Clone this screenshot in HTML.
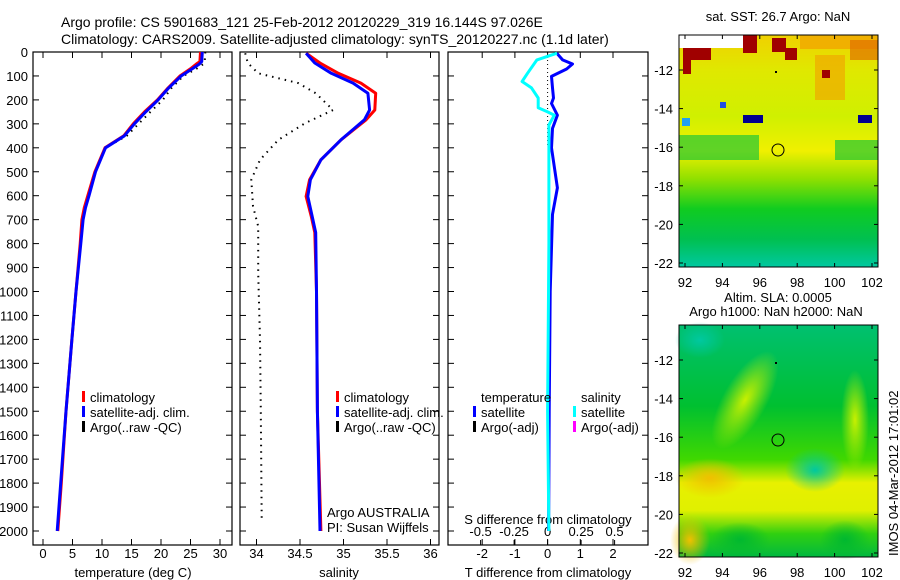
<!DOCTYPE html>
<html><head><meta charset="utf-8">
<style>
html,body{margin:0;padding:0;background:#fff;}
svg{display:block;font-family:"Liberation Sans",sans-serif;}
text{font-size:13px;fill:#000;}
</style></head>
<body>
<svg id="fig" width="900" height="580" viewBox="0 0 900 580">
<defs>
<linearGradient id="sstGrad" x1="0" y1="0" x2="0" y2="1">
<stop offset="0" stop-color="#f0d000"/><stop offset="0.15" stop-color="#e0e800"/>
<stop offset="0.35" stop-color="#d0f000"/><stop offset="0.5" stop-color="#f0f000"/>
<stop offset="0.62" stop-color="#90e000"/><stop offset="0.75" stop-color="#10cc20"/>
<stop offset="0.88" stop-color="#00c050"/><stop offset="1" stop-color="#00c8a0"/>
</linearGradient>
<linearGradient id="slaGrad" x1="0" y1="0" x2="0" y2="1">
<stop offset="0" stop-color="#00c070"/><stop offset="0.35" stop-color="#00c030"/>
<stop offset="0.58" stop-color="#40d800"/><stop offset="0.68" stop-color="#e8f000"/>
<stop offset="0.8" stop-color="#e0f000"/><stop offset="0.9" stop-color="#30d010"/><stop offset="1" stop-color="#00b840"/>
</linearGradient>
<radialGradient id="teal" cx="0.5" cy="0.5" r="0.5"><stop offset="0" stop-color="#00c8a0"/><stop offset="1" stop-color="#00c8a0" stop-opacity="0"/></radialGradient>
<radialGradient id="orng" cx="0.5" cy="0.5" r="0.5"><stop offset="0" stop-color="#f0c000"/><stop offset="1" stop-color="#f0c000" stop-opacity="0"/></radialGradient>
<radialGradient id="yel" cx="0.5" cy="0.5" r="0.5"><stop offset="0" stop-color="#c8f000"/><stop offset="1" stop-color="#c8f000" stop-opacity="0"/></radialGradient>
<radialGradient id="grn" cx="0.5" cy="0.5" r="0.5"><stop offset="0" stop-color="#00b830"/><stop offset="1" stop-color="#00b830" stop-opacity="0"/></radialGradient>
</defs>
<text x="61" y="27" style="font-size:14px">Argo profile: CS 5901683_121 25-Feb-2012 20120229_319 16.144S 97.026E</text>
<text x="61" y="44" style="font-size:14px">Climatology: CARS2009. Satellite-adjusted climatology: synTS_20120227.nc (1.1d later)</text>
<g id="p1"></g>
<g id="p2"></g>
<g id="p3"></g>

<g>
<text x="778" y="21" text-anchor="middle">sat. SST: 26.7 Argo: NaN</text>
<rect x="679" y="35" width="199" height="232" fill="url(#sstGrad)"/>
<rect x="679" y="35" width="76" height="13" fill="#fff"/>
<rect x="683" y="48" width="28" height="12" fill="#a00000"/>
<rect x="683" y="60" width="8" height="14" fill="#a00000"/>
<rect x="743" y="35" width="14" height="18" fill="#a00000"/>
<rect x="772" y="38" width="14" height="14" fill="#a00000"/>
<rect x="785" y="48" width="12" height="12" fill="#a00000"/>
<rect x="800" y="35" width="78" height="14" fill="#f0b000"/>
<rect x="815" y="55" width="30" height="45" fill="#f0a800" opacity="0.7"/>
<rect x="850" y="40" width="28" height="20" fill="#e07000" opacity="0.7"/>
<rect x="822" y="70" width="8" height="8" fill="#a00000"/>
<rect x="679" y="135" width="80" height="25" fill="#00c040" opacity="0.6"/>
<rect x="835" y="140" width="43" height="20" fill="#00c040" opacity="0.6"/>
<rect x="743" y="115" width="20" height="8" fill="#000090"/>
<rect x="858" y="115" width="14" height="8" fill="#000090"/>
<rect x="682" y="118" width="8" height="8" fill="#20a0f0"/>
<rect x="720" y="102" width="6" height="6" fill="#2050e0"/>
<circle cx="778" cy="150" r="6" fill="none" stroke="#000"/>
<rect x="775" y="71" width="2" height="2" fill="#000"/>
<rect x="679" y="35" width="199" height="232" fill="none" stroke="#000"/>
<g id="m1ax"></g>
</g>

<g>
<text x="778" y="302" text-anchor="middle">Altim. SLA: 0.0005</text>
<text x="776" y="316" text-anchor="middle">Argo h1000: NaN h2000: NaN</text>
<rect x="679" y="325" width="199" height="232" fill="url(#slaGrad)"/>
<ellipse cx="745" cy="400" rx="22" ry="55" fill="url(#yel)" transform="rotate(30 745 400)"/>
<ellipse cx="855" cy="420" rx="14" ry="50" fill="url(#yel)"/>
<ellipse cx="815" cy="470" rx="30" ry="22" fill="url(#teal)"/>
<ellipse cx="710" cy="478" rx="35" ry="20" fill="url(#orng)"/>
<ellipse cx="690" cy="540" rx="20" ry="25" fill="url(#orng)"/>
<ellipse cx="740" cy="540" rx="30" ry="18" fill="url(#grn)"/>
<ellipse cx="845" cy="540" rx="25" ry="20" fill="url(#grn)"/>
<ellipse cx="700" cy="340" rx="25" ry="18" fill="url(#teal)"/>
<circle cx="778" cy="440" r="6" fill="none" stroke="#000"/>
<rect x="775" y="362" width="2" height="2" fill="#000"/>
<rect x="679" y="325" width="199" height="232" fill="none" stroke="#000"/>
<g id="m2ax"></g>
</g>
<text transform="translate(898,556) rotate(-90)" style="font-size:13px">IMOS 04-Mar-2012 17:01:02</text>
</svg>
<script>
// ---- data ----
var depthTicks = [0,100,200,300,400,500,600,700,800,900,1000,1100,1200,1300,1400,1500,1600,1700,1800,1900,2000];
var tempTicks = [0,5,10,15,20,25,30];
var salTicks = [34,34.5,35,35.5,36];
var salTickLabels = ['34','34.5','35','35.5','36'];
var tdiffTicks = [-2,-1,0,1,2];
var sdiffTicks = [-0.5,-0.25,0,0.25,0.5];
var sdiffLabels = ['-0.5','-0.25','0','0.25','0.5'];
var lonTicks = [92,94,96,98,100,102];
var latTicks = [-12,-14,-16,-18,-20,-22];

var depthT = [0,40,50,70,100,150,200,250,300,350,400,500,600,650,700,800,1000,1200,1500,1800,2000];
var tempClim = [26.7,26.6,26.0,25.0,23.2,21.2,19.4,17.2,15.3,13.7,10.5,8.8,7.6,7.0,6.6,6.3,5.6,4.9,3.9,3.1,2.5];
var tempSat = [27.0,26.9,26.5,25.3,23.4,21.3,19.5,17.4,15.5,13.8,10.6,8.9,7.8,7.2,6.8,6.4,5.6,4.9,3.9,3.0,2.4];
var depthArgoT = [0,40,50,70,100,150,200,250,300,350,400,500,600,700,800,1000,1200,1500,1800,1980];
var tempArgo = [27.5,27.4,27.2,26.0,23.8,21.8,20.3,18.2,16.2,14.2,10.6,8.9,7.7,6.7,6.3,5.6,4.9,3.9,3.1,2.5];

var depthS = [5,46,89,130,172,242,283,367,450,533,603,687,754,1000,1500,2000];
var salClim = [34.57,34.73,34.94,35.2,35.37,35.36,35.26,34.97,34.74,34.61,34.57,34.63,34.67,34.69,34.7,34.74];
var salSat = [34.57,34.67,34.86,35.11,35.28,35.30,35.24,34.97,34.74,34.62,34.59,34.64,34.68,34.69,34.7,34.73];
var depthArgoS = [5,46,89,130,172,242,297,367,450,533,644,728,922,1200,1500,1950];
var salArgo = [33.87,33.9,34.02,34.48,34.68,34.88,34.56,34.25,34.04,33.94,33.96,34.02,34.02,34.04,34.05,34.06];

var depthTD = [5,33,50,71,102,150,192,215,264,319,400,567,678,1000,1500,2000];
var tDiff = [0.28,0.46,0.76,0.58,0.12,0.15,0.18,0.12,0.3,0.15,0.12,0.3,0.15,0.08,0.05,0.03];
var depthSD = [5,33,89,123,150,192,233,250,264,305,400,800,1500,2000];
var sDiff = [0.07,-0.08,-0.15,-0.19,-0.12,-0.07,-0.07,0,0.05,0.01,0.01,0.01,0.0,0.01];

// ---- axes ----
var NS='http://www.w3.org/2000/svg';
function yD(d){return 52+0.2395*d;}
function xT(t){return 43+5.9*t;}
function xS(s){return 256.5+87*(s-34);}
function xTD(t){return 547.6+32.7*t;}
function xSD(s){return 547.6+134*s;}
function xLon(l){return 685+(l-92)*18.7;}
function yLat1(l){return 70+(-12-l)*19.3;}
function yLat2(l){return 360+(-12-l)*19.3;}
function mk(tag,attrs,parent){var e=document.createElementNS(NS,tag);for(var k in attrs)e.setAttribute(k,attrs[k]);parent.appendChild(e);return e;}
function txt(x,y,s,anchor,parent){var e=mk('text',{x:x,y:y,'text-anchor':anchor},parent);e.textContent=s;return e;}

var P=[{g:'p1',x0:33,x1:232},{g:'p2',x0:240,x1:439},{g:'p3',x0:448,x1:648}];
var pTop=52,pBot=545;
P.forEach(function(p,i){
  var g=document.getElementById(p.g);
  var fr=mk('rect',{x:p.x0,y:pTop,width:p.x1-p.x0,height:pBot-pTop,fill:'none',stroke:'#000','stroke-width':1.2},g);
  
  
  depthTicks.forEach(function(d){
    mk('line',{x1:p.x0,x2:p.x0+6,y1:yD(d),y2:yD(d),stroke:'#000'},g);
    mk('line',{x1:p.x1,x2:p.x1-6,y1:yD(d),y2:yD(d),stroke:'#000'},g);
  });
});
var g1=document.getElementById('p1');
depthTicks.forEach(function(d){var t=txt(28,yD(d)+5,String(d),'end',g1);
  
  });
tempTicks.forEach(function(v){var x=xT(v);
  mk('line',{x1:x,x2:x,y1:pTop,y2:pTop+6,stroke:'#000'},g1);mk('line',{x1:x,x2:x,y1:pBot,y2:pBot-6,stroke:'#000'},g1);
  var t=txt(x,558,String(v),'middle',g1);
  
  });
var xl=txt(133,577,'temperature (deg C)','middle',g1);



var g2=document.getElementById('p2');
salTicks.forEach(function(v,i){var x=xS(v);
  mk('line',{x1:x,x2:x,y1:pTop,y2:pTop+6,stroke:'#000'},g2);mk('line',{x1:x,x2:x,y1:pBot,y2:pBot-6,stroke:'#000'},g2);
  var t=txt(x,558,salTickLabels[i],'middle',g2);
  
  });
var sl=txt(339,577,'salinity','middle',g2);



var g3=document.getElementById('p3');
tdiffTicks.forEach(function(v){var x=xTD(v);
  mk('line',{x1:x,x2:x,y1:pTop,y2:pTop+6,stroke:'#000'},g3);mk('line',{x1:x,x2:x,y1:pBot,y2:pBot-6,stroke:'#000'},g3);
  var t=txt(x,558,String(v),'middle',g3);
  
  });
sdiffTicks.forEach(function(v,i){var x=xSD(v);
  mk('line',{x1:x,x2:x,y1:pBot,y2:pBot-5,stroke:'#000'},g3);
  var t=txt(x,536,sdiffLabels[i],'middle',g3);
  
  });
var st=txt(548,524,'S difference from climatology','middle',g3);


var tt=txt(548,577,'T difference from climatology','middle',g3);



// ---- series ----
function line(g,xs,ds,fx,color,w,dash,name){
  var pts=xs.map(function(v,i){return fx(v).toFixed(1)+','+yD(ds[i]).toFixed(1);}).join(' ');
  var a={points:pts,fill:'none',stroke:color,'stroke-width':w,'stroke-linejoin':'round'};
  if(dash)a['stroke-dasharray']=dash;
  var e=mk('polyline',a,g);
  
  
}
line(g1,tempArgo,depthArgoT,xT,'#000',2,'1.5 5','argo-temp-line');
line(g1,tempClim,depthT,xT,'#f00',3,null,'climatology-temp-line');
line(g1,tempSat,depthT,xT,'#00f',3,null,'satellite-temp-line');
line(g2,salArgo,depthArgoS,xS,'#000',2,'1.5 5','argo-salinity-line');
line(g2,salClim,depthS,xS,'#f00',3,null,'climatology-salinity-line');
line(g2,salSat,depthS,xS,'#00f',3,null,'satellite-salinity-line');
mk('line',{x1:xTD(0),x2:xTD(0),y1:pTop,y2:yD(400),stroke:'#000','stroke-dasharray':'1 3'},g3);
line(g3,tDiff,depthTD,xTD,'#00f',3,null,'tdiff-satellite-line');
line(g3,sDiff,depthSD,xSD,'#0ff',3,null,'sdiff-satellite-line');

// ---- legends ----
function leg(g,x,y,color,label,name){
  mk('rect',{x:x,y:y-6,width:3,height:11,fill:color},g);
  var t=txt(x+8,y+5,label,'start',g);
  
  
}
leg(g1,82,397,'#f00','climatology','legend-climatology');
leg(g1,82,412,'#00f','satellite-adj. clim.','legend-satellite');
leg(g1,82,427,'#000','Argo(..raw -QC)','legend-argo');
leg(g2,336,397,'#f00','climatology','legend-climatology');
leg(g2,336,412,'#00f','satellite-adj. clim.','legend-satellite');
leg(g2,336,427,'#000','Argo(..raw -QC)','legend-argo');
var lt=txt(481,402,'temperature','start',g3);


var ls=txt(581,402,'salinity','start',g3);


leg(g3,473,412,'#00f','satellite','legend-t-satellite');
leg(g3,473,427,'#000','Argo(-adj)','legend-t-argo');
leg(g3,573,412,'#0ff','satellite','legend-s-satellite');
leg(g3,573,427,'#f0f','Argo(-adj)','legend-s-argo');
var a1=txt(327,517,'Argo AUSTRALIA','start',g2);


var a2=txt(327,532,'PI: Susan Wijffels','start',g2);



// ---- map axes ----
function mapAx(id,y0,y1,fy){
  var g=document.getElementById(id);
  lonTicks.forEach(function(l){var x=xLon(l);
    mk('line',{x1:x,x2:x,y1:y0,y2:y0+4,stroke:'#000'},g);mk('line',{x1:x,x2:x,y1:y1,y2:y1-4,stroke:'#000'},g);
    var t=txt(x,y1+20,String(l),'middle',g);
    
    });
  latTicks.forEach(function(l){var y=fy(l);
    mk('line',{x1:679,x2:683,y1:y,y2:y,stroke:'#000'},g);mk('line',{x1:878,x2:874,y1:y,y2:y,stroke:'#000'},g);
    var t=txt(673,y+5,String(l),'end',g);
    
    });
}
mapAx('m1ax',35,267,yLat1);
mapAx('m2ax',325,557,yLat2);
</script>
</body></html>
